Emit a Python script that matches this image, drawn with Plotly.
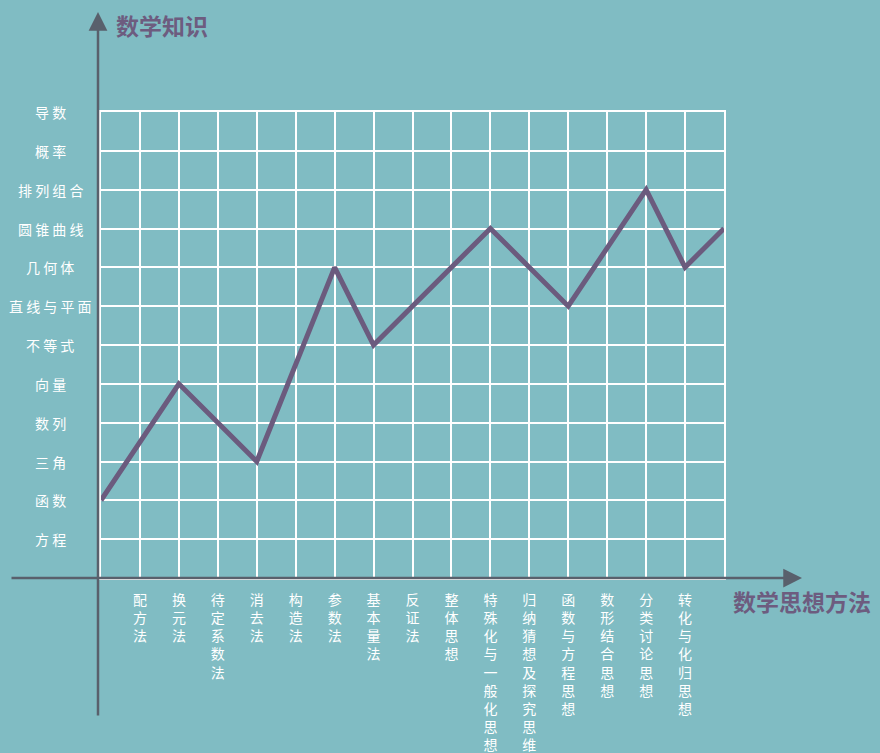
import plotly.graph_objects as go

# 数学思想方法 (x categories, left to right)
methods = ["配方法", "换元法", "待定系数法", "消去法", "构造法", "参数法", "基本量法", "反证法",
           "整体思想", "特殊化与一般化思想", "归纳猜想及探究思维", "函数与方程思想",
           "数形结合思想", "分类讨论思想", "转化与化归思想"]
# 数学知识 (y categories, bottom to top)
knowledge = ["方程", "函数", "三角", "数列", "向量", "不等式", "直线与平面", "几何体",
             "圆锥曲线", "排列组合", "概率", "导数"]

# polyline vertices: grid column (0 = y axis, 16 = right edge) and knowledge level
path_col = [0, 2, 4, 6, 7, 10, 12, 14, 15, 16]
path_knowledge = ["函数", "向量", "三角", "几何体", "不等式", "圆锥曲线", "直线与平面",
                  "排列组合", "几何体", "圆锥曲线"]

BG = "#80bcc3"
LINE = "#6b5b7e"
AXIS = "#59606c"
TITLE = "#6d5c7f"
FONT = "Noto Sans CJK SC"

W, H = 880, 753
L, R, T, B = 101, 156, 112, 175
PW, PH = W - L - R, H - T - B

def px_x(p):
    return (p - L) / PW

def px_y(p):
    return (H - B - p) / PH

y_vals = [knowledge.index(k) + 1 for k in path_knowledge]

fig = go.Figure()
fig.add_trace(go.Scatter(
    x=path_col, y=y_vals, mode="lines",
    line=dict(color=LINE, width=5), hoverinfo="skip", showlegend=False,
))

n_x = len(methods) + 1
n_y = len(knowledge)

fig.update_layout(
    width=W, height=H,
    margin=dict(l=L, r=R, t=T, b=B, pad=0, autoexpand=False),
    paper_bgcolor=BG, plot_bgcolor=BG,
    font=dict(family=FONT, color="white"),
    showlegend=False,
    xaxis=dict(
        range=[0, n_x], tickmode="array",
        tickvals=list(range(1, n_x)),
        ticktext=["<br>".join(m) for m in methods],
        tickfont=dict(family=FONT, size=14, color="white"),
        ticks="", ticklabelstandoff=8, automargin=False,
        showgrid=True, gridcolor="white", gridwidth=2,
        zeroline=False, showline=True, mirror=True, linecolor="white", linewidth=2,
        fixedrange=True,
    ),
    yaxis=dict(
        range=[0, n_y], tickmode="array",
        tickvals=list(range(1, n_y + 1)),
        showticklabels=False, ticks="", automargin=False,
        showgrid=True, gridcolor="white", gridwidth=2,
        zeroline=False, showline=True, mirror=True, linecolor="white", linewidth=2,
        fixedrange=True,
    ),
)

annotations = []
# knowledge labels, centered to the left of the y axis
for i, k in enumerate(knowledge):
    annotations.append(dict(
        x=px_x(50), xref="paper", y=i + 1, yref="y",
        text=" ".join(k), showarrow=False, xanchor="center", yanchor="middle",
        font=dict(family=FONT, size=14, color="white"),
    ))

# axis arrows
annotations.append(dict(
    x=px_x(802), y=0, xref="paper", yref="paper",
    ax=-792, ay=0, axref="pixel", ayref="pixel",
    text="", showarrow=True, arrowhead=2, arrowsize=1.5, arrowwidth=2.5,
    arrowcolor=AXIS, standoff=0,
))
annotations.append(dict(
    x=px_x(98), y=px_y(12), xref="paper", yref="paper",
    ax=0, ay=705, axref="pixel", ayref="pixel",
    text="", showarrow=True, arrowhead=2, arrowsize=1.5, arrowwidth=2.5,
    arrowcolor=AXIS, standoff=0,
))

# axis titles
annotations.append(dict(
    x=px_x(114), y=px_y(25), xref="paper", yref="paper",
    text="<b>数学知识</b>", showarrow=False, xanchor="left", yanchor="middle",
    font=dict(family=FONT, size=23, color=TITLE),
))
annotations.append(dict(
    x=px_x(731), y=px_y(601), xref="paper", yref="paper",
    text="<b>数学思想方法</b>", showarrow=False, xanchor="left", yanchor="middle",
    font=dict(family=FONT, size=23, color=TITLE),
))

fig.update_layout(annotations=annotations)

fig.write_html("out.html", config={"displayModeBar": False},
               post_script="document.body.style.margin='0';")
